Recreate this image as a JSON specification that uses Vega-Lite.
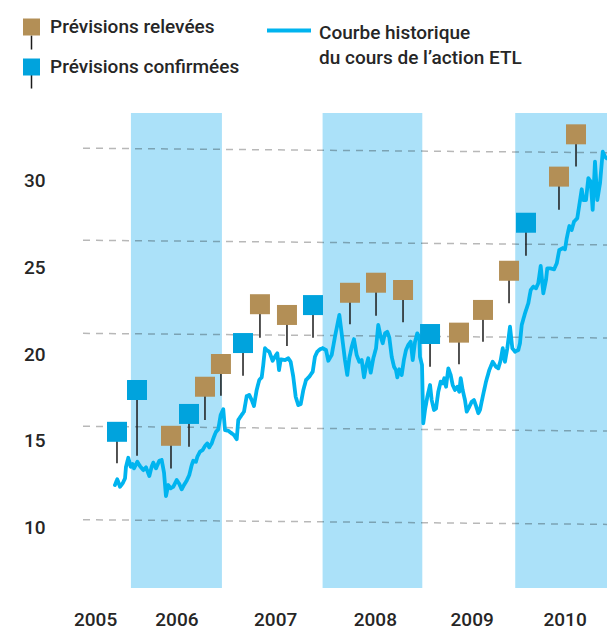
{
  "$schema": "https://vega.github.io/schema/vega-lite/v6.json",
  "width": 524,
  "height": 475,
  "autosize": "none",
  "padding": {"left": 83, "top": 113, "right": 0, "bottom": 44},
  "background": "white",
  "config": {
    "view": {"stroke": null},
    "font": "Roboto",
    "axis": {"labelFont": "Roboto", "labelFontSize": 19, "labelFontWeight": 500, "labelColor": "#262626", "domain": false, "ticks": false, "tickSize": 0, "grid": false, "title": null},
    "legend": {"labelFont": "Roboto", "labelFontSize": 19, "labelFontWeight": 500, "labelColor": "#262626", "padding": 0, "title": null, "labelLimit": 400}
  },
  "datasets": {
    "bands": [
      {"a": 2006.02, "b": 2006.96},
      {"a": 2008.0, "b": 2009.03},
      {"a": 2009.99, "b": 2010.938}
    ],
    "grid": [
      {"x1": 2005.525, "x2": 2010.938, "y1": 31.89, "y2": 31.63},
      {"x1": 2005.525, "x2": 2010.938, "y1": 26.58, "y2": 26.31},
      {"x1": 2005.525, "x2": 2010.938, "y1": 21.21, "y2": 20.94},
      {"x1": 2005.525, "x2": 2010.938, "y1": 15.85, "y2": 15.57},
      {"x1": 2005.525, "x2": 2010.938, "y1": 10.46, "y2": 10.19}
    ],
    "price": [
      {"t": 2005.855, "p": 12.46}, {"t": 2005.879, "p": 12.79}, {"t": 2005.907, "p": 12.36}, {"t": 2005.935, "p": 12.56},
      {"t": 2005.959, "p": 12.84}, {"t": 2005.969, "p": 13.51}, {"t": 2005.993, "p": 14.03}, {"t": 2006.018, "p": 13.51},
      {"t": 2006.038, "p": 13.67}, {"t": 2006.052, "p": 13.42}, {"t": 2006.086, "p": 13.8}, {"t": 2006.114, "p": 13.55},
      {"t": 2006.148, "p": 13.32}, {"t": 2006.176, "p": 13.48}, {"t": 2006.21, "p": 12.98}, {"t": 2006.234, "p": 13.51},
      {"t": 2006.251, "p": 13.75}, {"t": 2006.279, "p": 13.42}, {"t": 2006.313, "p": 13.86}, {"t": 2006.338, "p": 13.9},
      {"t": 2006.362, "p": 13.17}, {"t": 2006.382, "p": 11.82}, {"t": 2006.406, "p": 12.46}, {"t": 2006.431, "p": 12.27},
      {"t": 2006.458, "p": 12.36}, {"t": 2006.493, "p": 12.75}, {"t": 2006.52, "p": 12.52}, {"t": 2006.544, "p": 12.21},
      {"t": 2006.568, "p": 12.46}, {"t": 2006.596, "p": 12.71}, {"t": 2006.623, "p": 13.04}, {"t": 2006.648, "p": 13.61},
      {"t": 2006.664, "p": 13.86}, {"t": 2006.692, "p": 13.8}, {"t": 2006.706, "p": 14.09}, {"t": 2006.733, "p": 14.38},
      {"t": 2006.761, "p": 14.48}, {"t": 2006.785, "p": 14.71}, {"t": 2006.809, "p": 14.86}, {"t": 2006.829, "p": 14.63},
      {"t": 2006.854, "p": 14.86}, {"t": 2006.878, "p": 15.25}, {"t": 2006.899, "p": 15.53}, {"t": 2006.922, "p": 15.67},
      {"t": 2006.947, "p": 16.5}, {"t": 2006.974, "p": 16.83}, {"t": 2006.992, "p": 15.63}, {"t": 2007.026, "p": 15.59},
      {"t": 2007.061, "p": 15.44}, {"t": 2007.085, "p": 15.34}, {"t": 2007.113, "p": 15.1}, {"t": 2007.129, "p": 16.21},
      {"t": 2007.164, "p": 16.5}, {"t": 2007.188, "p": 16.69}, {"t": 2007.216, "p": 17.59}, {"t": 2007.243, "p": 17.65},
      {"t": 2007.268, "p": 17.36}, {"t": 2007.291, "p": 17.02}, {"t": 2007.319, "p": 17.94}, {"t": 2007.346, "p": 18.52},
      {"t": 2007.371, "p": 18.67}, {"t": 2007.387, "p": 19.38}, {"t": 2007.405, "p": 20.35}, {"t": 2007.422, "p": 20.25},
      {"t": 2007.449, "p": 20.15}, {"t": 2007.484, "p": 19.63}, {"t": 2007.508, "p": 19.86}, {"t": 2007.532, "p": 20.06},
      {"t": 2007.55, "p": 19.09}, {"t": 2007.567, "p": 19.71}, {"t": 2007.612, "p": 19.67}, {"t": 2007.646, "p": 19.77},
      {"t": 2007.67, "p": 19.57}, {"t": 2007.697, "p": 18.71}, {"t": 2007.722, "p": 17.55}, {"t": 2007.749, "p": 17.07},
      {"t": 2007.774, "p": 17.13}, {"t": 2007.801, "p": 17.94}, {"t": 2007.829, "p": 18.52}, {"t": 2007.863, "p": 18.71},
      {"t": 2007.898, "p": 19.0}, {"t": 2007.921, "p": 19.86}, {"t": 2007.945, "p": 20.15}, {"t": 2007.973, "p": 20.29},
      {"t": 2008.001, "p": 20.35}, {"t": 2008.035, "p": 20.25}, {"t": 2008.059, "p": 19.63}, {"t": 2008.094, "p": 19.96},
      {"t": 2008.128, "p": 21.02}, {"t": 2008.173, "p": 22.27}, {"t": 2008.197, "p": 21.21}, {"t": 2008.231, "p": 19.67},
      {"t": 2008.255, "p": 18.81}, {"t": 2008.276, "p": 19.77}, {"t": 2008.301, "p": 20.44}, {"t": 2008.324, "p": 20.87},
      {"t": 2008.352, "p": 19.96}, {"t": 2008.379, "p": 19.57}, {"t": 2008.404, "p": 19.67}, {"t": 2008.428, "p": 18.67},
      {"t": 2008.448, "p": 19.28}, {"t": 2008.472, "p": 19.77}, {"t": 2008.497, "p": 18.94}, {"t": 2008.524, "p": 19.77},
      {"t": 2008.552, "p": 20.35}, {"t": 2008.575, "p": 21.69}, {"t": 2008.6, "p": 21.02}, {"t": 2008.621, "p": 20.64},
      {"t": 2008.645, "p": 21.21}, {"t": 2008.668, "p": 21.3}, {"t": 2008.689, "p": 20.98}, {"t": 2008.714, "p": 19.86},
      {"t": 2008.738, "p": 19.28}, {"t": 2008.758, "p": 19.09}, {"t": 2008.772, "p": 18.67}, {"t": 2008.792, "p": 19.13},
      {"t": 2008.817, "p": 18.81}, {"t": 2008.841, "p": 19.71}, {"t": 2008.862, "p": 20.25}, {"t": 2008.885, "p": 20.54},
      {"t": 2008.91, "p": 20.73}, {"t": 2008.931, "p": 19.67}, {"t": 2008.955, "p": 20.73}, {"t": 2008.978, "p": 21.21},
      {"t": 2008.999, "p": 21.02}, {"t": 2009.006, "p": 19.86}, {"t": 2009.027, "p": 19.38}, {"t": 2009.04, "p": 16.02},
      {"t": 2009.058, "p": 16.79}, {"t": 2009.082, "p": 17.55}, {"t": 2009.11, "p": 18.23}, {"t": 2009.127, "p": 17.36},
      {"t": 2009.151, "p": 16.79}, {"t": 2009.172, "p": 16.88}, {"t": 2009.195, "p": 17.84}, {"t": 2009.22, "p": 18.42},
      {"t": 2009.241, "p": 18.33}, {"t": 2009.257, "p": 18.62}, {"t": 2009.275, "p": 18.13}, {"t": 2009.299, "p": 19.19},
      {"t": 2009.323, "p": 18.81}, {"t": 2009.344, "p": 18.23}, {"t": 2009.368, "p": 17.94}, {"t": 2009.392, "p": 18.13},
      {"t": 2009.412, "p": 17.84}, {"t": 2009.427, "p": 18.62}, {"t": 2009.447, "p": 17.94}, {"t": 2009.471, "p": 17.36},
      {"t": 2009.489, "p": 16.69}, {"t": 2009.516, "p": 16.98}, {"t": 2009.54, "p": 17.26}, {"t": 2009.564, "p": 17.36},
      {"t": 2009.585, "p": 17.02}, {"t": 2009.609, "p": 16.6}, {"t": 2009.626, "p": 16.79}, {"t": 2009.654, "p": 17.55},
      {"t": 2009.688, "p": 18.42}, {"t": 2009.722, "p": 19.09}, {"t": 2009.757, "p": 19.57}, {"t": 2009.791, "p": 19.28},
      {"t": 2009.815, "p": 19.19}, {"t": 2009.84, "p": 19.67}, {"t": 2009.861, "p": 20.35}, {"t": 2009.884, "p": 19.57},
      {"t": 2009.908, "p": 20.35}, {"t": 2009.936, "p": 21.59}, {"t": 2009.96, "p": 20.35}, {"t": 2009.988, "p": 20.15},
      {"t": 2010.022, "p": 20.25}, {"t": 2010.039, "p": 20.64}, {"t": 2010.057, "p": 21.69}, {"t": 2010.091, "p": 22.37},
      {"t": 2010.125, "p": 22.94}, {"t": 2010.15, "p": 23.71}, {"t": 2010.177, "p": 23.9}, {"t": 2010.205, "p": 23.81},
      {"t": 2010.228, "p": 24.1}, {"t": 2010.253, "p": 25.1}, {"t": 2010.28, "p": 23.52}, {"t": 2010.308, "p": 24.29},
      {"t": 2010.321, "p": 24.96}, {"t": 2010.349, "p": 24.96}, {"t": 2010.391, "p": 24.9}, {"t": 2010.419, "p": 25.25},
      {"t": 2010.445, "p": 26.02}, {"t": 2010.481, "p": 26.12}, {"t": 2010.504, "p": 26.06}, {"t": 2010.522, "p": 26.69},
      {"t": 2010.549, "p": 27.4}, {"t": 2010.573, "p": 27.17}, {"t": 2010.597, "p": 27.65}, {"t": 2010.631, "p": 27.85},
      {"t": 2010.652, "p": 28.62}, {"t": 2010.677, "p": 29.52}, {"t": 2010.693, "p": 28.9}, {"t": 2010.721, "p": 28.9},
      {"t": 2010.745, "p": 30.16}, {"t": 2010.77, "p": 29.96}, {"t": 2010.79, "p": 28.33}, {"t": 2010.814, "p": 31.11},
      {"t": 2010.838, "p": 28.9}, {"t": 2010.866, "p": 29.87}, {"t": 2010.894, "p": 31.69}, {"t": 2010.917, "p": 31.4},
      {"t": 2010.935, "p": 31.31}
    ],
    "forecasts": [
      {"t": 2005.876, "v": 15.53, "s": 13.71, "kind": "Prévisions confirmées"},
      {"t": 2006.083, "v": 17.94, "s": 14.15, "kind": "Prévisions confirmées"},
      {"t": 2006.434, "v": 15.3, "s": 13.42, "kind": "Prévisions relevées"},
      {"t": 2006.62, "v": 16.56, "s": 14.67, "kind": "Prévisions confirmées"},
      {"t": 2006.785, "v": 18.13, "s": 16.21, "kind": "Prévisions relevées"},
      {"t": 2006.95, "v": 19.44, "s": 17.61, "kind": "Prévisions relevées"},
      {"t": 2007.178, "v": 20.65, "s": 18.77, "kind": "Prévisions confirmées"},
      {"t": 2007.353, "v": 22.89, "s": 20.96, "kind": "Prévisions relevées"},
      {"t": 2007.632, "v": 22.27, "s": 20.48, "kind": "Prévisions relevées"},
      {"t": 2007.901, "v": 22.84, "s": 20.96, "kind": "Prévisions confirmées"},
      {"t": 2008.283, "v": 23.55, "s": 21.73, "kind": "Prévisions relevées"},
      {"t": 2008.552, "v": 24.13, "s": 22.23, "kind": "Prévisions relevées"},
      {"t": 2008.831, "v": 23.71, "s": 21.85, "kind": "Prévisions relevées"},
      {"t": 2009.11, "v": 21.17, "s": 19.28, "kind": "Prévisions confirmées"},
      {"t": 2009.409, "v": 21.25, "s": 19.42, "kind": "Prévisions relevées"},
      {"t": 2009.657, "v": 22.56, "s": 20.73, "kind": "Prévisions relevées"},
      {"t": 2009.926, "v": 24.82, "s": 22.94, "kind": "Prévisions relevées"},
      {"t": 2010.101, "v": 27.59, "s": 25.69, "kind": "Prévisions confirmées"},
      {"t": 2010.442, "v": 30.25, "s": 28.34, "kind": "Prévisions relevées"},
      {"t": 2010.618, "v": 32.69, "s": 30.83, "kind": "Prévisions relevées"}
    ]
  },
  "layer": [
    {
      "data": {"name": "bands"},
      "mark": {"type": "rect", "color": "#ABE1F9"},
      "encoding": {
        "x": {"field": "a", "type": "quantitative", "scale": {"domain": [2005.525, 2010.938], "nice": false, "zero": false},
              "axis": {"values": [2005.65, 2006.49, 2007.51, 2008.54, 2009.54, 2010.5], "labelExpr": "floor(datum.value)", "labelPadding": 22, "labelOverlap": false, "labelFlush": false}},
        "x2": {"field": "b"}
      }
    },
    {
      "data": {"name": "grid"},
      "mark": {"type": "rule", "color": "#000000", "opacity": 0.28, "strokeWidth": 1.5, "strokeDash": [7, 6]},
      "encoding": {
        "x": {"field": "x1", "type": "quantitative",
              "axis": {"values": [2005.65, 2006.49, 2007.51, 2008.54, 2009.54, 2010.5], "labelExpr": "floor(datum.value)", "labelPadding": 22, "labelOverlap": false, "labelFlush": false}},
        "x2": {"field": "x2"},
        "y": {"field": "y1", "type": "quantitative", "scale": {"domain": [6.52, 33.92], "nice": false, "zero": false},
              "axis": {"values": [10, 15, 20, 25, 30], "labelPadding": 38, "labelOverlap": false}},
        "y2": {"field": "y2"}
      }
    },
    {
      "data": {"name": "price"},
      "mark": {"type": "line", "color": "#00B4EF", "strokeWidth": 3.8, "strokeJoin": "round", "strokeCap": "round"},
      "encoding": {
        "x": {"field": "t", "type": "quantitative",
              "axis": {"values": [2005.65, 2006.49, 2007.51, 2008.54, 2009.54, 2010.5], "labelExpr": "floor(datum.value)", "labelPadding": 22, "labelOverlap": false, "labelFlush": false}},
        "y": {"field": "p", "type": "quantitative",
              "axis": {"values": [10, 15, 20, 25, 30], "labelPadding": 38, "labelOverlap": false}},
        "strokeDash": {
          "datum": "courbe",
          "scale": {"range": [[1, 0]]},
          "legend": {
            "orient": "none", "legendX": 182, "legendY": -106.6,
            "symbolType": "stroke", "symbolSize": 1936, "symbolStrokeColor": "#00B4EF", "symbolStrokeWidth": 4,
            "labelOffset": 6,
            "labelExpr": "['Courbe historique', 'du cours de l’action ETL']",
            "encode": {"labels": {"update": {"lineHeight": {"value": 25}, "dy": {"value": 3}}}}
          }
        }
      }
    },
    {
      "data": {"name": "forecasts"},
      "mark": {"type": "rule", "strokeWidth": 1.5},
      "encoding": {
        "x": {"field": "t", "type": "quantitative",
              "axis": {"values": [2005.65, 2006.49, 2007.51, 2008.54, 2009.54, 2010.5], "labelExpr": "floor(datum.value)", "labelPadding": 22, "labelOverlap": false, "labelFlush": false}},
        "y": {"field": "v", "type": "quantitative",
              "axis": {"values": [10, 15, 20, 25, 30], "labelPadding": 38, "labelOverlap": false}},
        "y2": {"field": "s"},
        "stroke": {
          "field": "kind", "type": "nominal",
          "scale": {"range": ["#1a1a1a", "#1a1a1a"]},
          "legend": {
            "orient": "none", "legendX": -61, "legendY": -95.5,
            "symbolType": "M0,1V2.65", "symbolSize": 289, "symbolStrokeWidth": 1.5, "symbolFillColor": "transparent",
            "labelExpr": "' '", "labelOpacity": 0, "rowPadding": 3, "labelOffset": 9
          }
        }
      }
    },
    {
      "data": {"name": "forecasts"},
      "mark": {"type": "point", "shape": "square", "filled": true, "opacity": 1, "size": 400},
      "encoding": {
        "x": {"field": "t", "type": "quantitative",
              "axis": {"values": [2005.65, 2006.49, 2007.51, 2008.54, 2009.54, 2010.5], "labelExpr": "floor(datum.value)", "labelPadding": 22, "labelOverlap": false, "labelFlush": false}},
        "y": {"field": "v", "type": "quantitative",
              "axis": {"values": [10, 15, 20, 25, 30], "labelPadding": 38, "labelOverlap": false}},
        "color": {
          "field": "kind", "type": "nominal",
          "scale": {"domain": ["Prévisions relevées", "Prévisions confirmées"], "range": ["#B38F56", "#00A3DD"]},
          "legend": {
            "orient": "none", "legendX": -61, "legendY": -95.5,
            "symbolType": "square", "symbolSize": 289, "symbolStrokeWidth": 0, "symbolOpacity": 1,
            "rowPadding": 20, "labelOffset": 9
          }
        }
      }
    }
  ]
}
